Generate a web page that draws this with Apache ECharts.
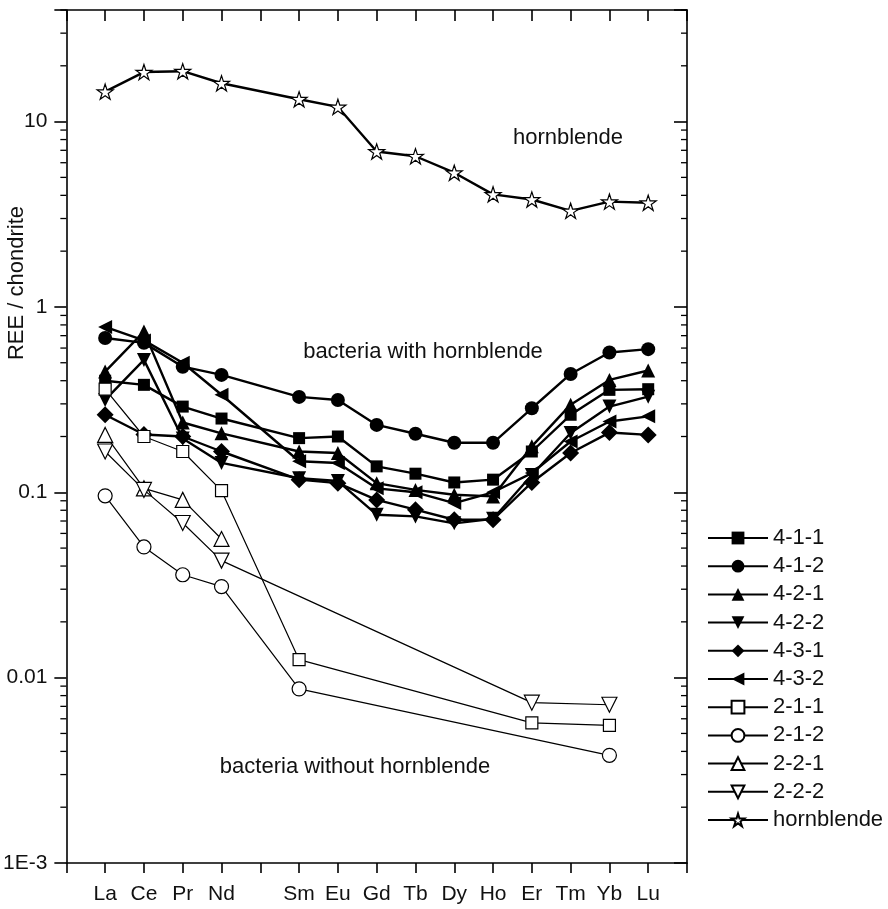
<!DOCTYPE html>
<html>
<head>
<meta charset="utf-8">
<script src="https://cdn.jsdelivr.net/npm/echarts@6/dist/echarts.min.js"></script>
<style>
html,body{margin:0;padding:0;background:#fff;}
#chart{width:888px;height:909px;}
</style>
</head>
<body>
<div id="chart"></div>
<script>
// ---- data ----
const elements = ['La','Ce','Pr','Nd','Sm','Eu','Gd','Tb','Dy','Ho','Er','Tm','Yb','Lu'];
const xPos     = [1, 2, 3, 4, 6, 7, 8, 9, 10, 11, 12, 13, 14, 15];

const s411 = [0.40, 0.38, 0.29, 0.25, 0.196, 0.20, 0.138, 0.126, 0.113, 0.117, 0.166, 0.262, 0.357, 0.36];
const s412 = [0.68, 0.64, 0.476, 0.43, 0.327, 0.315, 0.231, 0.207, 0.185, 0.185, 0.284, 0.435, 0.568, 0.592];
const s421 = [0.448, 0.736, 0.238, 0.208, 0.166, 0.163, 0.112, 0.103, 0.097, 0.095, 0.177, 0.297, 0.404, 0.454];
const s422 = [0.315, 0.518, 0.195, 0.144, 0.119, 0.115, 0.0757, 0.0741, 0.068, 0.072, 0.124, 0.209, 0.29, 0.328];
const s431 = [0.262, 0.205, 0.20, 0.166, 0.117, 0.112, 0.091, 0.0806, 0.0711, 0.0711, 0.113, 0.163, 0.21, 0.204];
const s432 = [0.78, 0.66, 0.50, 0.336, 0.147, 0.144, 0.105, 0.10, 0.0875, 0.10, 0.127, 0.188, 0.241, 0.257];
const s211 = [0.36, 0.20, 0.166, 0.102, 0.0125, null, null, null, null, null, 0.0057, null, 0.00553, null];
const s212 = [0.0957, 0.0507, 0.0359, 0.031, 0.0087, null, null, null, null, null, null, null, 0.00381, null];
const s221 = [0.204, 0.105, 0.091, 0.056, null, null, null, null, null, null, null, null, null, null];
const s222 = [0.166, 0.103, 0.0683, 0.0428, null, null, null, null, null, null, 0.00733, null, 0.00714, null];
const hbl  = [14.5, 18.5, 18.7, 16.1, 13.2, 12.0, 6.9, 6.5, 5.3, 4.05, 3.8, 3.3, 3.7, 3.65];

const yTickValues = [0.001, 0.01, 0.1, 1, 10];
const yTickLabels = ['1E-3', '0.01', '0.1', '1', '10'];

const seriesNames = ['4-1-1','4-1-2','4-2-1','4-2-2','4-3-1','4-3-2','2-1-1','2-1-2','2-2-1','2-2-2','hornblende'];
const seriesValues = [s411, s412, s421, s422, s431, s432, s211, s212, s221, s222, hbl];

// ---- styling ----
const STAR = 'path://M0,-1L0.2234,-0.3074L0.951,-0.309L0.3614,0.1174L0.5878,0.809L0,0.38L-0.5878,0.809L-0.3614,0.1174L-0.951,-0.309L-0.2234,-0.3074Z';
const styles = [
  {symbol:'rect', size:12, rot:0, filled:true},
  {symbol:'circle', size:14, rot:0, filled:true},
  {symbol:'triangle', size:14, rot:0, filled:true},
  {symbol:'triangle', size:14, rot:180, filled:true},
  {symbol:'diamond', size:17, rot:0, filled:true},
  {symbol:'triangle', size:14, rot:90, filled:true},
  {symbol:'rect', size:12, rot:0, filled:false},
  {symbol:'circle', size:14, rot:0, filled:false},
  {symbol:'triangle', size:15, rot:0, filled:false},
  {symbol:'triangle', size:15, rot:180, filled:false},
  {symbol:STAR, size:16, rot:0, filled:false, star:true}
];

const FONT = '"Liberation Sans", Arial, Helvetica, sans-serif';

function toData(vals){
  const out = [];
  vals.forEach((v, i) => { if (v !== null) out.push([xPos[i], v]); });
  return out;
}

const xLabelMap = {};
xPos.forEach((p, i) => { xLabelMap[p] = elements[i]; });

const series = seriesValues.map((vals, k) => {
  const st = styles[k];
  const thick = st.filled || st.star;
  return {
    name: seriesNames[k],
    type: 'line',
    data: toData(vals),
    symbol: st.symbol,
    symbolSize: st.size,
    symbolRotate: st.rot,
    symbolKeepAspect: !!st.star,
    showAllSymbol: true,
    lineStyle: {color:'#000', width: thick ? 2.4 : 1.2},
    itemStyle: st.filled ? {color:'#000', borderColor:'#000', borderWidth:0}
                         : {color:'#fff', borderColor:'#000', borderWidth:1.2},
    emphasis: {disabled: true},
    z: 3 + k,
    animation: false
  };
});

// minor ticks for log axes (2..9 per decade) drawn via the axis scale
const minorTickValues = [];
for (let e = -3; e <= 1; e++) {
  for (let m = 2; m <= 9; m++) {
    const v = m * Math.pow(10, e);
    if (v <= 40) minorTickValues.push(v);
  }
}
series.push({
  type: 'custom',
  silent: true,
  clip: false,
  data: minorTickValues.map(v => [0, v]),
  renderItem: function (params, api) {
    const v = api.value(1);
    const pL = api.coord([0, v]);
    const pR = api.coord([16, v]);
    return {
      type: 'group',
      children: [
        {type:'line', shape:{x1:pL[0]-6, y1:pL[1], x2:pL[0], y2:pL[1]}, style:{stroke:'#000', lineWidth:1.3}},
        {type:'line', shape:{x1:pR[0]-6, y1:pR[1], x2:pR[0], y2:pR[1]}, style:{stroke:'#000', lineWidth:1.3}}
      ]
    };
  },
  z: 1
});

const chart = echarts.init(document.getElementById('chart'), null, {renderer:'canvas'});
chart.setOption({
  animation: false,
  backgroundColor: '#fff',
  textStyle: {fontFamily: FONT},
  grid: {left: 66, right: 201, top: 10, bottom: 46, containLabel: false},
  xAxis: [
    {
      type: 'value', position: 'bottom', min: 0, max: 16, interval: 1,
      axisLine: {show: true, lineStyle: {color:'#000', width:1.6}},
      axisTick: {show: true, inside: false, length: 10, lineStyle: {color:'#000', width:1.6}},
      axisLabel: {show: true, color:'#111', fontSize: 21, fontFamily: FONT, margin: 21,
                  formatter: v => xLabelMap[v] || ''},
      splitLine: {show: false}
    },
    {
      type: 'value', position: 'top', min: 0, max: 16, interval: 1,
      axisLine: {show: true, onZero: false, lineStyle: {color:'#000', width:1.6}},
      axisTick: {show: true, inside: true, length: 11, lineStyle: {color:'#000', width:1.6}},
      axisLabel: {show: false},
      splitLine: {show: false}
    }
  ],
  yAxis: [
    {
      type: 'log', logBase: 10, min: 0.001, max: 40, position: 'left',
      axisLine: {show: true, lineStyle: {color:'#000', width:1.6}},
      axisTick: {show: true, inside: false, length: 12, lineStyle: {color:'#000', width:1.6}},
      axisLabel: {show: true, color:'#111', fontSize: 21, fontFamily: FONT, margin: 19,
                  formatter: function (v) {
                    const i = yTickValues.findIndex(t => Math.abs(Math.log10(v) - Math.log10(t)) < 1e-6);
                    return i >= 0 ? yTickLabels[i] : '';
                  }},
      splitLine: {show: false}, minorTick: {show: false}
    },
    {
      type: 'log', logBase: 10, min: 0.001, max: 40, position: 'right',
      axisLine: {show: true, onZero: false, lineStyle: {color:'#000', width:1.6}},
      axisTick: {show: true, inside: true, length: 13, lineStyle: {color:'#000', width:1.6}},
      axisLabel: {show: false},
      splitLine: {show: false}, minorTick: {show: false}
    }
  ],
  legend: {
    orient: 'vertical',
    left: 702, top: 522,
    data: seriesNames,
    itemWidth: 60, itemHeight: 16, itemGap: 6.2,
    textStyle: {fontSize: 22, color:'#111', fontFamily: FONT},
    selectedMode: false
  },
  graphic: [
    {type:'text', x: 17, y: 283, rotation: Math.PI/2,
     style:{text:'REE / chondrite', fontSize: 22, fontFamily: FONT, fill:'#111', align:'center', verticalAlign:'middle'}},
    {type:'text', x: 568, y: 138,
     style:{text:'hornblende', fontSize: 22, fontFamily: FONT, fill:'#111', align:'center', verticalAlign:'middle'}},
    {type:'text', x: 423, y: 352,
     style:{text:'bacteria with hornblende', fontSize: 22, fontFamily: FONT, fill:'#111', align:'center', verticalAlign:'middle'}},
    {type:'text', x: 355, y: 767,
     style:{text:'bacteria without hornblende', fontSize: 22, fontFamily: FONT, fill:'#111', align:'center', verticalAlign:'middle'}}
  ],
  series: series
});
</script>
</body>
</html>
